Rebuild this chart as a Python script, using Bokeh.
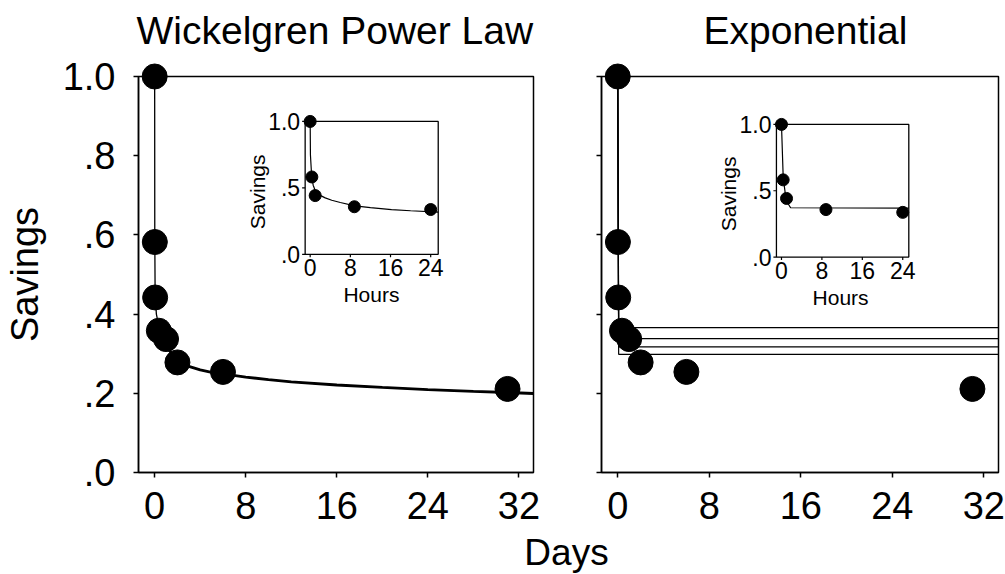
from math import pi
from bokeh.plotting import figure
from bokeh.models import Range1d, FixedTicker, Label
from bokeh.layouts import row, column
from bokeh.core.properties import value
from bokeh.embed import file_html
from bokeh.resources import INLINE

# ---------------- data ----------------
days = [0.0, 0.0139, 0.0417, 0.367, 1.0, 2.0, 6.0, 31.0]
savings = [1.0, 0.582, 0.442, 0.358, 0.337, 0.278, 0.254, 0.211]

hours = [0.0, 0.333, 1.0, 8.8, 24.0]
savings_hours = [1.0, 0.582, 0.442, 0.358, 0.337]

power_fit_days = [0.0, 0.01, 0.04, 0.15, 0.4, 1.0, 2.0, 3.0, 4.0, 5.0, 6.0, 8.0, 10.0,
                  12.0, 16.0, 20.0, 24.0, 28.0, 31.0, 33.28]
power_fit_savings = [1.0, 0.60, 0.45, 0.40, 0.365, 0.318, 0.284, 0.268, 0.259, 0.253, 0.249,
                     0.241, 0.2345, 0.229, 0.221, 0.215, 0.2095, 0.205, 0.202, 0.1995]
power_fit_hours = [0.0, 0.05, 0.3, 0.6, 1.0, 1.5, 2.2, 3.0, 4.3, 6.0, 8.9, 12.0, 16.2, 20.0, 25.5]
power_fit_savings_hours = [1.0, 0.75, 0.585, 0.52, 0.48, 0.455, 0.44, 0.425, 0.407, 0.39,
                           0.365, 0.352, 0.337, 0.328, 0.318]

exp_fit_days = [0.0, 0.08, 33.28]
exp_fit_levels = [0.366, 0.338, 0.317, 0.2985]
exp_fit_hours = [0.0, 0.34, 0.8, 1.2, 1.8, 25.2]
exp_fit_savings_hours = [1.0, 0.60, 0.465, 0.41, 0.372, 0.369]

day_ticks = [0, 8, 16, 24, 32]
savings_ticks = [0.0, 0.2, 0.4, 0.6, 0.8, 1.0]
savings_tick_labels = [".0", ".2", ".4", ".6", ".8", "1.0"]
hour_ticks = [0, 8, 16, 24]
hour_tick_labels = ["0", "8", "16", "24"]
inset_savings_ticks = [0.0, 0.5, 1.0]
inset_savings_labels = [".0", ".5", "1.0"]
titles = ["Wickelgren Power Law", "Exponential"]

FONT = "Liberation Sans"
HEAD = 56
H = 480
TOP = 76 - HEAD


def make_panel(width, border_left, border_right, ylabels):
    p = figure(width=width, height=H, x_range=Range1d(-1.42, 33.28), y_range=Range1d(0, 1),
               output_backend="svg", toolbar_location=None,
               min_border_left=border_left, min_border_right=border_right,
               min_border_top=TOP, min_border_bottom=H - TOP - 396)
    p.xgrid.visible = False
    p.ygrid.visible = False
    p.outline_line_color = "black"
    p.outline_line_width = 1.5
    p.outline_line_alpha = 1.0
    p.background_fill_color = "white"
    p.border_fill_color = "white"
    p.xaxis.ticker = FixedTicker(ticks=day_ticks)
    p.yaxis.ticker = FixedTicker(ticks=savings_ticks)
    if ylabels:
        p.yaxis.major_label_overrides = {t: l for t, l in zip(savings_ticks, savings_tick_labels)}
    else:
        p.yaxis.major_label_overrides = {t: "" for t in savings_ticks}
    for ax in p.axis:
        ax.axis_line_color = "black"
        ax.axis_line_width = 1.5
        ax.major_tick_line_color = "black"
        ax.major_tick_line_width = 1.5
        ax.major_tick_out = 5
        ax.major_tick_in = 0
        ax.minor_tick_line_color = None
        ax.major_label_text_font = FONT
        ax.major_label_text_font_size = "38px"
        ax.major_label_text_color = "black"
    p.xaxis.major_label_standoff = 14
    p.yaxis.major_label_standoff = 18
    return p


def add_inset(p, x_src, x_tgt, y_tgt, fit_x, fit_y, ylab_x, ylab_y, hours_x):
    sub = p.subplot(x_source=Range1d(*x_src), y_source=Range1d(0, 1),
                    x_target=Range1d(*x_tgt), y_target=Range1d(*y_tgt))
    sub.quad(left=x_src[0], right=x_src[1], bottom=0, top=1, fill_color=None,
             line_color="black", line_width=1.3)
    sub.segment(x0=hour_ticks, y0=[0] * len(hour_ticks), x1=hour_ticks,
                y1=[-0.022] * len(hour_ticks), line_color="black", line_width=1.2)
    sub.segment(x0=[x_src[0]] * 3, y0=inset_savings_ticks, x1=[x_src[0] - 0.6] * 3,
                y1=inset_savings_ticks, line_color="black", line_width=1.2)
    sub.line(fit_x, fit_y, line_color="black", line_width=1.2)
    sub.scatter(hours, savings_hours, size=12, marker="circle", color="black")
    sub.text(x=hour_ticks, y=[0] * len(hour_ticks), text=hour_tick_labels,
             text_align="center", text_baseline="top", y_offset=5,
             text_font=value(FONT), text_font_size="23px", text_color="black")
    sub.text(x=[x_src[0]] * 3, y=inset_savings_ticks, text=inset_savings_labels,
             text_align="right", text_baseline="middle", x_offset=-5,
             text_font=value(FONT), text_font_size="23px", text_color="black")
    sub.text(x=[ylab_x], y=[ylab_y], text=["Savings"], angle=pi / 2,
             text_align="center", text_baseline="middle",
             text_font=value(FONT), text_font_size="21px", text_color="black")
    sub.text(x=[hours_x], y=[0], text=["Hours"], text_align="center",
             text_baseline="top", y_offset=29,
             text_font=value(FONT), text_font_size="21px", text_color="black")
    return sub


def text_strip(height):
    f = figure(width=1005, height=height, x_range=Range1d(0, 1005), y_range=Range1d(0, height),
               output_backend="svg", toolbar_location=None, min_border=0,
               x_axis_type=None, y_axis_type=None)
    f.xgrid.visible = False
    f.ygrid.visible = False
    f.outline_line_color = None
    f.background_fill_alpha = 0
    f.border_fill_alpha = 0
    return f


# ---------------- titles ----------------
p0 = text_strip(HEAD)
p0.add_layout(Label(x=136, y=26, text=titles[0], text_align="left",
                    text_baseline="alphabetic", text_font=FONT, text_font_size="39px",
                    text_color="black"))
p0.add_layout(Label(x=703, y=26, text=titles[1], text_align="left",
                    text_baseline="alphabetic", text_font=FONT, text_font_size="39px",
                    text_color="black"))

# ---------------- left panel: power law ----------------
p1 = make_panel(568, 136, 35, True)
p1.yaxis.axis_label = "Savings"
p1.yaxis.axis_label_text_font = FONT
p1.yaxis.axis_label_text_font_size = "38px"
p1.yaxis.axis_label_text_font_style = "normal"
p1.yaxis.axis_label_text_color = "black"
p1.yaxis.axis_label_standoff = 14
p1.line(power_fit_days, power_fit_savings, line_color="black", line_width=1.3)
p1.line(power_fit_days[5:], power_fit_savings[5:], line_color="black", line_width=2.8)
p1.scatter(days, savings, size=25, marker="circle", color="black", level="overlay")
add_inset(p1, (-1, 25.5), (13.22, 24.91), (0.551, 0.8865),
          power_fit_hours, power_fit_savings_hours, -10.5, 0.47, 12.2)

# ---------------- right panel: exponential ----------------
p2 = make_panel(437, 33, 7, False)
for lvl in exp_fit_levels:
    p2.line(exp_fit_days, [1.0, lvl, lvl], line_color="black", line_width=1.2)
p2.scatter(days, savings, size=25, marker="circle", color="black", level="overlay")
add_inset(p2, (-1, 25.2), (13.87, 25.44), (0.544, 0.879),
          exp_fit_hours, exp_fit_savings_hours, -10.4, 0.476, 11.7)

# ---------------- shared x label (strip overlaps the blank bottom of the panels) ----------------
p3 = text_strip(46)
p3.margin = (-8, 0, 0, 0)
p3.add_layout(Label(x=566, y=22, text="Days", text_align="center",
                    text_baseline="alphabetic", text_font=FONT, text_font_size="37px",
                    text_color="black"))

layout = column(p0, row(p1, p2), p3)
open("out.html", "w").write(file_html(layout, INLINE))
